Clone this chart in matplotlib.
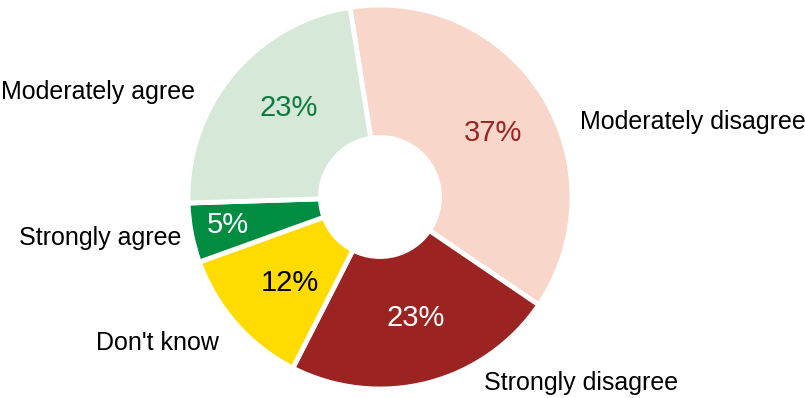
import matplotlib
matplotlib.use('Agg')
import matplotlib.pyplot as plt

# Survey answers, clockwise from the top
categories = ['Moderately disagree', 'Strongly disagree', "Don't know",
              'Strongly agree', 'Moderately agree']
shares = [37, 23, 12, 5, 23]
slice_colors = ['#F8D7CA', '#9B2321', '#FFDB00', '#008D41', '#D6E8D7']
pct_colors = ['#9B2321', 'white', 'black', 'white', '#0E7A3F']

# layout (pixel coords, y up) for the text
pct_pos = [(493, 265), (416, 80), (290, 115), (228, 173), (289, 290)]
label_pos = [(580, 276, 'left'), (484, 15, 'left'), (219, 55, 'right'),
             (181, 160, 'right'), (195, 306, 'right')]

plt.rcParams['font.family'] = ['Liberation Sans', 'DejaVu Sans']

W, H = 805, 398
fig = plt.figure(figsize=(W / 100, H / 100), dpi=100)
ax = fig.add_axes([0, 0, 1, 1])

cx, cy, R = 380, 201, 192
wedges, _ = ax.pie(shares, colors=slice_colors, startangle=99, counterclock=False,
                   center=(cx, cy), radius=R,
                   wedgeprops=dict(width=R * 0.69, edgecolor='white', linewidth=3.5))

for (x, y), s, c in zip(pct_pos, shares, pct_colors):
    ax.text(x, y, f'{s}%', fontsize=21, color=c, ha='center', va='center')

for (x, y, ha), name in zip(label_pos, categories):
    ax.text(x, y, name, fontsize=18, color='black', ha=ha, va='center')

ax.set_xlim(0, W)
ax.set_ylim(0, H)
ax.set_aspect('equal')
ax.axis('off')

fig.savefig('out.png', dpi=100, facecolor='white')
